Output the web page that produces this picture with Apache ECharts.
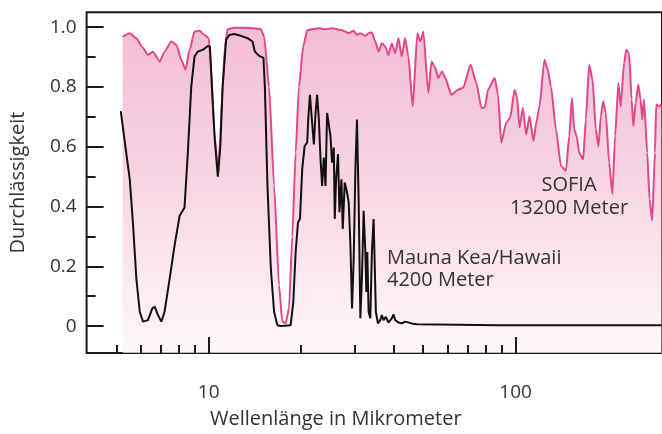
<!DOCTYPE html>
<html>
<head>
<meta charset="utf-8">
<script src="https://cdn.jsdelivr.net/npm/echarts@6/dist/echarts.min.js"></script>
<style>
html,body{margin:0;padding:0;background:#fff;}
#chart{width:662px;height:434px;}
</style>
</head>
<body>
<div id="chart"></div>
<script>
// SOFIA (13200 m) transmission: wavelength in micrometers, transmission
const sofiaWl = [5.24,5.53,5.81,6.11,6.34,6.58,6.92,7.18,7.55,7.84,8.14,8.40,8.66,8.99,9.33,9.68,10.0,10.18,10.43,10.75,10.91,11.10,11.30,11.52,12.11,13.06,14.07,14.79,15.16,15.73,16.33,16.95,17.37,17.82,18.27,18.72,19.20,19.68,20.32,20.94,21.74,22.85,24.02,25.24,27.20,28.59,29.68,30.42,31.20,32.39,33.19,34.02,34.90,35.76,36.66,37.60,38.53,39.49,40.51,41.52,42.55,43.65,44.74,46.20,47.85,48.93,50.04,51.94,53.24,54.60,55.97,57.66,58.97,61.81,65.01,67.48,71.37,74.52,77.36,79.35,81.33,85.50,87.63,89.81,93.23,96.05,99.26,100.98,103.03,105.60,108.23,111.01,114.38,116.80,119.62,124.17,127.26,130.43,135.39,140.54,145.88,149.63,152.57,155.33,158.02,161.24,166.12,169.38,173.73,178.15,182.59,186.30,189.53,192.96,196.74,201.80,206.82,211.03,216.29,220.03,225.69,229.59,234.27,238.86,241.91,246.10,251.11,255.46,258.72,262.03,268.56,273.21,278.77,284.45,287.22,293.07,299.0];
const sofiaT = [0.968,0.98,0.963,0.93,0.907,0.918,0.885,0.918,0.952,0.941,0.891,0.858,0.924,0.985,0.988,0.974,0.963,0.869,0.647,0.514,0.636,0.80,0.935,0.993,0.998,0.998,0.996,0.993,0.968,0.80,0.47,0.136,0.015,0.01,0.06,0.30,0.58,0.80,0.935,0.99,0.993,0.996,0.993,0.996,0.99,0.98,0.988,0.974,0.98,0.971,0.98,0.982,0.952,0.918,0.946,0.935,0.907,0.946,0.913,0.963,0.902,0.963,0.902,0.735,0.98,0.952,0.985,0.78,0.885,0.866,0.83,0.852,0.83,0.774,0.791,0.797,0.874,0.813,0.73,0.73,0.791,0.83,0.774,0.614,0.68,0.697,0.791,0.769,0.664,0.73,0.641,0.702,0.619,0.68,0.735,0.891,0.858,0.80,0.658,0.536,0.519,0.636,0.763,0.658,0.636,0.58,0.558,0.691,0.874,0.824,0.658,0.602,0.702,0.752,0.713,0.547,0.442,0.636,0.813,0.735,0.88,0.924,0.913,0.758,0.669,0.747,0.808,0.758,0.691,0.758,0.58,0.425,0.353,0.58,0.741,0.735,0.74];

// Mauna Kea / Hawaii (4200 m) transmission
const maunaWl = [5.17,5.33,5.53,5.67,5.81,5.96,6.11,6.34,6.55,6.67,6.83,7.01,7.18,7.46,7.74,8.04,8.34,8.55,8.77,8.99,9.21,9.56,9.93,10.09,10.24,10.47,10.71,10.91,11.10,11.39,11.67,12.11,12.74,13.38,13.89,14.14,14.60,15.08,15.24,15.54,15.94,16.33,16.74,17.17,18.50,18.86,19.20,19.54,19.83,20.17,20.54,20.94,21.10,21.37,21.64,22.01,22.29,22.56,22.85,23.14,23.42,23.72,24.02,24.31,24.62,24.93,25.24,25.56,25.75,26.00,26.39,26.67,27.07,27.34,27.75,28.23,28.59,28.96,29.31,29.68,30.06,30.42,30.81,31.20,31.57,31.98,32.39,32.63,32.87,33.19,33.62,34.02,34.46,35.05,35.58,36.22,36.66,37.12,37.77,38.53,39.49,40.01,40.51,41.52,42.55,43.65,45.85,47.60,87.63,299.0];
const maunaT = [0.719,0.614,0.491,0.336,0.159,0.048,0.015,0.02,0.059,0.065,0.037,0.015,0.048,0.159,0.27,0.369,0.397,0.58,0.80,0.902,0.918,0.924,0.937,0.935,0.80,0.62,0.50,0.602,0.80,0.957,0.974,0.977,0.971,0.963,0.952,0.918,0.904,0.897,0.80,0.469,0.192,0.048,0.003,0.0,0.003,0.08,0.248,0.347,0.358,0.525,0.602,0.614,0.691,0.774,0.702,0.608,0.713,0.774,0.691,0.558,0.469,0.564,0.469,0.713,0.719,0.636,0.547,0.597,0.358,0.491,0.575,0.381,0.491,0.325,0.48,0.447,0.414,0.27,0.059,0.225,0.525,0.691,0.414,0.026,0.159,0.386,0.248,0.114,0.248,0.048,0.026,0.248,0.358,0.048,0.009,0.02,0.037,0.02,0.031,0.012,0.026,0.039,0.02,0.012,0.009,0.015,0.009,0.006,0.003,0.003];

// Axis ticks and labels
const xMajorTicks = [10, 100];
const xMinorTicks = [5, 6, 7, 8, 9, 20, 30, 40, 50, 60, 70, 80, 90];
const xTickLabels = [10, 100];
const yMajorTicks = [0, 0.2, 0.4, 0.6, 0.8, 1.0];
const yMinorTicks = [0.1, 0.3, 0.5, 0.7, 0.9];
const yTickLabels = ['0', '0.2', '0.4', '0.6', '0.8', '1.0'];

const lg = Math.log10;
const FONT = '"Open Sans", "Noto Sans", sans-serif';
const TXT = '#333';
const AX = '#1a1a1a';

const chart = echarts.init(document.getElementById('chart'), null, {renderer: 'canvas'});

const xRange = {min: lg(4), max: lg(300)};
const yRange = {min: -0.09, max: 1.05};

function xAxisBase(extra) {
  return Object.assign({
    type: 'value', min: xRange.min, max: xRange.max, position: 'bottom', z: 10,
    splitLine: {show: false}, axisLine: {show: false, onZero: false}
  }, extra);
}
function yAxisBase(extra) {
  return Object.assign({
    type: 'value', min: yRange.min, max: yRange.max, position: 'left', z: 10,
    splitLine: {show: false}, axisLine: {show: false, onZero: false}
  }, extra);
}

chart.setOption({
  animation: false,
  backgroundColor: '#fff',
  grid: {left: 86.6, right: -2.8, top: 12.2, bottom: 434 - 354.7,
         show: true, borderColor: AX, borderWidth: 2, backgroundColor: 'transparent'},
  xAxis: [
    xAxisBase({
      name: 'Wellenlänge in Mikrometer', nameLocation: 'middle', nameGap: 56,
      nameTextStyle: {fontFamily: FONT, fontSize: 20, color: TXT, padding: [0, 77, 0, 0]},
      axisTick: {show: true, inside: true, length: 16, customValues: xMajorTicks.map(lg),
                 lineStyle: {color: AX, width: 2}},
      axisLabel: {show: true, margin: 30, fontFamily: FONT, fontSize: 19, color: TXT,
                  customValues: xTickLabels.map(lg),
                  formatter: v => String(Math.round(Math.pow(10, v)))}
    }),
    xAxisBase({
      axisTick: {show: true, inside: true, length: 8, customValues: xMinorTicks.map(lg),
                 lineStyle: {color: AX, width: 2}},
      axisLabel: {show: false}
    })
  ],
  yAxis: [
    yAxisBase({
      name: 'Durchlässigkeit', nameLocation: 'middle', nameGap: 58,
      nameTextStyle: {fontFamily: FONT, fontSize: 20, color: TXT},
      axisTick: {show: true, inside: true, length: 17, customValues: yMajorTicks,
                 lineStyle: {color: AX, width: 2}},
      axisLabel: {show: true, margin: 10, fontFamily: FONT, fontSize: 19, color: TXT,
                  customValues: yMajorTicks,
                  formatter: v => yTickLabels[yMajorTicks.findIndex(t => Math.abs(t - v) < 1e-6)] || ''}
    }),
    yAxisBase({
      axisTick: {show: true, inside: true, length: 9, customValues: yMinorTicks,
                 lineStyle: {color: AX, width: 2}},
      axisLabel: {show: false}
    })
  ],
  series: [
    {
      name: 'SOFIA', type: 'line', xAxisIndex: 0, yAxisIndex: 0,
      data: sofiaWl.map((w, i) => [lg(w), sofiaT[i]]),
      symbol: 'none', smooth: 0.2, smoothMonotone: 'x',
      lineStyle: {color: '#e4468a', width: 2},
      areaStyle: {
        origin: 'start',
        color: new echarts.graphic.LinearGradient(0, 0, 0, 1, [
          {offset: 0, color: '#eea2c3'},
          {offset: 0.5, color: '#f5c5d9'},
          {offset: 1, color: '#fef5f9'}
        ])
      },
      z: 2
    },
    {
      name: 'Mauna Kea', type: 'line', xAxisIndex: 0, yAxisIndex: 0,
      data: maunaWl.map((w, i) => [lg(w), maunaT[i]]),
      symbol: 'none', smooth: false,
      lineStyle: {color: '#111', width: 2},
      z: 3
    }
  ],
  graphic: [
    {type: 'text', x: 569, y: 197, z: 10,
     style: {text: 'SOFIA\n13200 Meter', align: 'center', verticalAlign: 'middle',
             font: '20px ' + FONT, fill: TXT, lineHeight: 23}},
    {type: 'text', x: 387, y: 269, z: 10,
     style: {text: 'Mauna Kea/Hawaii\n4200 Meter', align: 'left', verticalAlign: 'middle',
             font: '20px ' + FONT, fill: TXT, lineHeight: 22}}
  ]
});
</script>
</body>
</html>
